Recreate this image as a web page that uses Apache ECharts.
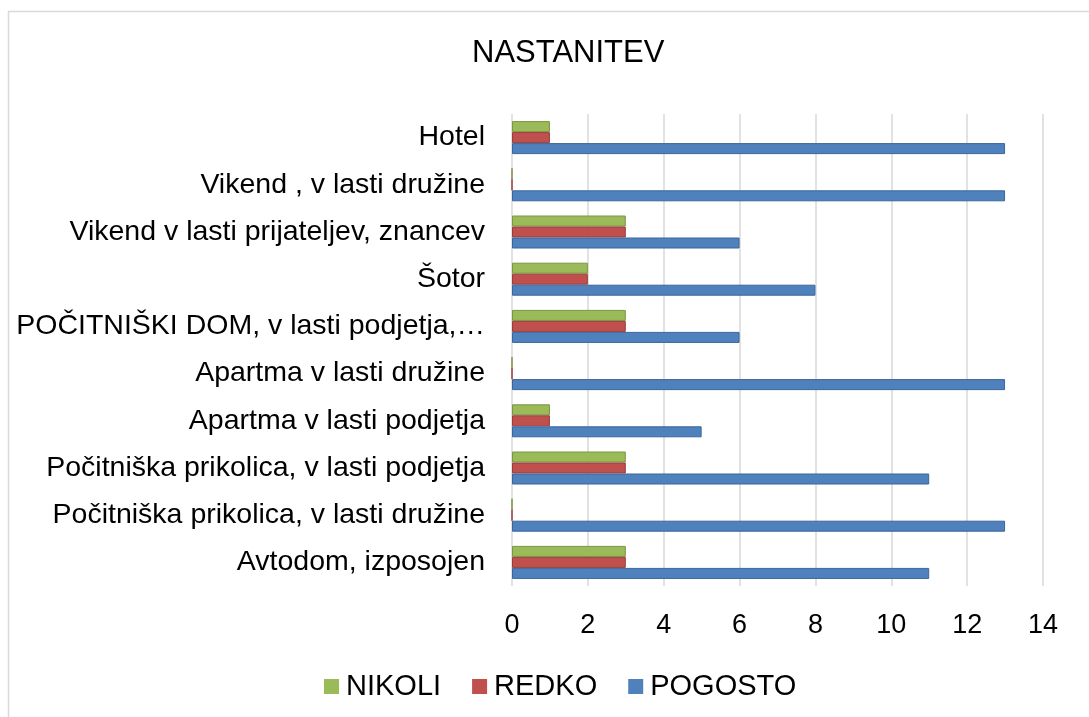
<!DOCTYPE html>
<html><head><meta charset="utf-8">
<script src="https://cdn.jsdelivr.net/npm/echarts@6/dist/echarts.min.js"></script>
<style>html,body{margin:0;padding:0;background:#fff}#c{width:1089px;height:717px}</style>
</head><body><div id="c"></div>
<script>
// categories listed bottom to top (ECharts category y-axis starts at bottom)
const categories = [
  "Avtodom, izposojen",
  "Počitniška prikolica, v lasti družine",
  "Počitniška prikolica, v lasti podjetja",
  "Apartma v lasti podjetja",
  "Apartma v lasti družine",
  "POČITNIŠKI DOM, v lasti podjetja,…",
  "Šotor",
  "Vikend v lasti prijateljev, znancev",
  "Vikend , v lasti družine",
  "Hotel"
];
const nikoli   = [3, 0, 3, 1, 0, 3, 2, 3, 0, 1];
const redko    = [3, 0, 3, 1, 0, 3, 2, 3, 0, 1];
const pogosto  = [11, 13, 11, 5, 13, 6, 8, 6, 13, 13];
const xTicks = [0, 2, 4, 6, 8, 10, 12, 14];

const chart = echarts.init(document.getElementById('c'), null, {renderer: 'canvas'});
const font = 'Liberation Sans, Arial, sans-serif';
function bar(name, data, color, edge) {
  return {
    name, type: 'bar', data, barWidth: 11, barGap: '0%',
    itemStyle: {color, borderColor: edge, borderWidth: 1},
    emphasis: {disabled: true}
  };
}
chart.setOption({
  animation: false,
  backgroundColor: '#fff',
  graphic: [{type: 'rect', shape: {x: 8.5, y: 11.5, width: 1100, height: 720},
    style: {fill: 'none', stroke: '#d9d9d9', lineWidth: 1.5}, silent: true}],
  title: {text: 'NASTANITEV', left: 467, top: 33,
    textStyle: {fontFamily: font, fontSize: 31, fontWeight: 'normal', color: '#000'}},
  legend: {
    data: ['NIKOLI', 'REDKO', 'POGOSTO'], bottom: 11, left: 319,
    itemWidth: 15, itemHeight: 15, itemGap: 31, icon: 'rect',
    itemStyle: {borderWidth: 0},
    textStyle: {fontFamily: font, fontSize: 29, color: '#000', padding: [0, 0, 0, 2]}
  },
  grid: {left: 512, right: 46, top: 114, bottom: 131, containLabel: false},
  xAxis: {
    type: 'value', min: 0, max: 14, interval: 2,
    axisLine: {show: false}, axisTick: {show: false},
    splitLine: {lineStyle: {color: '#d9d9d9', width: 1.5}},
    axisLabel: {fontFamily: font, fontSize: 27, color: '#000', margin: 26,
      formatter: v => xTicks.includes(v) ? String(v) : ''}
  },
  yAxis: {
    type: 'category', data: categories,
    axisLine: {show: false}, axisTick: {show: false},
    axisLabel: {fontFamily: font, fontSize: 28.5, color: '#000', margin: 27}
  },
  series: [
    bar('NIKOLI', nikoli, '#9BBB59', '#7A9544'),
    bar('REDKO', redko, '#C0504D', '#9A3D3A'),
    bar('POGOSTO', pogosto, '#4F81BD', '#3B659A')
  ]
});
</script></body></html>
